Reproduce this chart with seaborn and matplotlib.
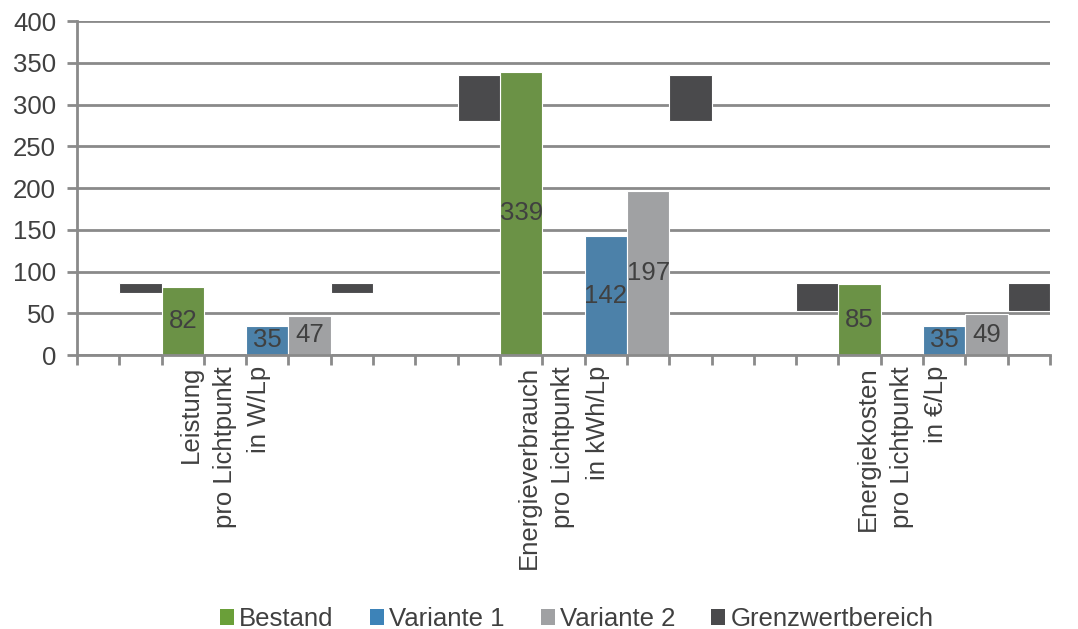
import numpy as np
import pandas as pd
import matplotlib
matplotlib.use("Agg")
import matplotlib.pyplot as plt
from matplotlib.patches import Patch
import seaborn as sns

# values
groups = ["Leistung\npro Lichtpunkt\nin W/Lp",
          "Energieverbrauch\npro Lichtpunkt\nin kWh/Lp",
          "Energiekosten\npro Lichtpunkt\nin €/Lp"]
bestand = [82, 339, 85]
variante1 = [35, 142, 35]
variante2 = [47, 197, 49]
grenz_low = [74, 280, 53]
grenz_high = [86, 335, 86]

series_names = ["Bestand", "Variante 1", "Variante 2", "Grenzwertbereich"]
colors = {"Bestand": "#6a9f39", "Variante 1": "#3d83b8",
          "Variante 2": "#a0a1a3", "Grenzwertbereich": "#4a4a4c"}

N_SLOTS = 23
GROUP_STEP = 8

sns.set_theme(style="white")
plt.rcParams['font.family'] = ['Liberation Sans', 'DejaVu Sans']
TXT = "#404040"
LINE = "#8a8a8a"

rows = []
for g in range(len(groups)):
    base = g * GROUP_STEP
    rows.append({"slot": base + 2, "series": "Bestand", "value": bestand[g]})
    rows.append({"slot": base + 4, "series": "Variante 1", "value": variante1[g]})
    rows.append({"slot": base + 5, "series": "Variante 2", "value": variante2[g]})
df = pd.DataFrame(rows)

fig, ax = plt.subplots(figsize=(10.78, 6.29), dpi=100)
fig.subplots_adjust(left=0.0714, right=0.974, top=0.9666, bottom=0.4356)

sns.barplot(data=df, x="slot", y="value", hue="series", order=list(range(N_SLOTS)),
            hue_order=series_names[:3], palette=colors, dodge=False, width=1.0,
            errorbar=None, legend=False, edgecolor="white", linewidth=0.8, ax=ax)

for c in ax.containers:
    ax.bar_label(c, fmt="%d", label_type="center", fontsize=18.5, color=TXT)

# floating limit bars, left and right of each group
for g in range(len(groups)):
    base = g * GROUP_STEP
    pos = [base + 1, base + 6]
    ax.bar(pos, [grenz_high[g] - grenz_low[g]] * 2, bottom=grenz_low[g], width=1.0,
           color=colors["Grenzwertbereich"], edgecolor="white", linewidth=0.8, zorder=2)

ax.set_xlim(-0.5, N_SLOTS - 0.5)
ax.set_ylim(0, 400)
ax.set_yticks(np.arange(0, 401, 50))
ax.yaxis.grid(True, color=LINE, linewidth=2.0)
ax.set_axisbelow(True)

ax.set_xticks([g * GROUP_STEP + 3 for g in range(len(groups))])
ax.set_xticklabels(groups, rotation=90, va="top", ha="center", multialignment="right",
                   linespacing=1.55)
ax.set_xticks(np.arange(-0.5, N_SLOTS, 1), minor=True)
ax.tick_params(axis="x", which="major", length=0, pad=8, labelsize=18.5, labelcolor=TXT)
ax.tick_params(axis="x", which="minor", bottom=True, length=7, width=2.0, color=LINE)
ax.tick_params(axis="y", left=True, length=7, width=2.0, color=LINE,
               labelsize=18.5, labelcolor=TXT, pad=8)
ax.set_xlabel("")
ax.set_ylabel("")

for s in ["top", "right"]:
    ax.spines[s].set_visible(False)
for s in ["left", "bottom"]:
    ax.spines[s].set_color(LINE)
    ax.spines[s].set_linewidth(2.0)

handles = [Patch(facecolor=colors[n], edgecolor="none") for n in series_names]
fig.legend(handles, series_names, loc="lower center", bbox_to_anchor=(0.535, -0.04),
           ncol=4, frameon=False, fontsize=18.5, handlelength=0.55, handleheight=0.55,
           handletextpad=0.2, columnspacing=1.4, labelcolor=TXT)

fig.savefig("out.png", dpi=100)
